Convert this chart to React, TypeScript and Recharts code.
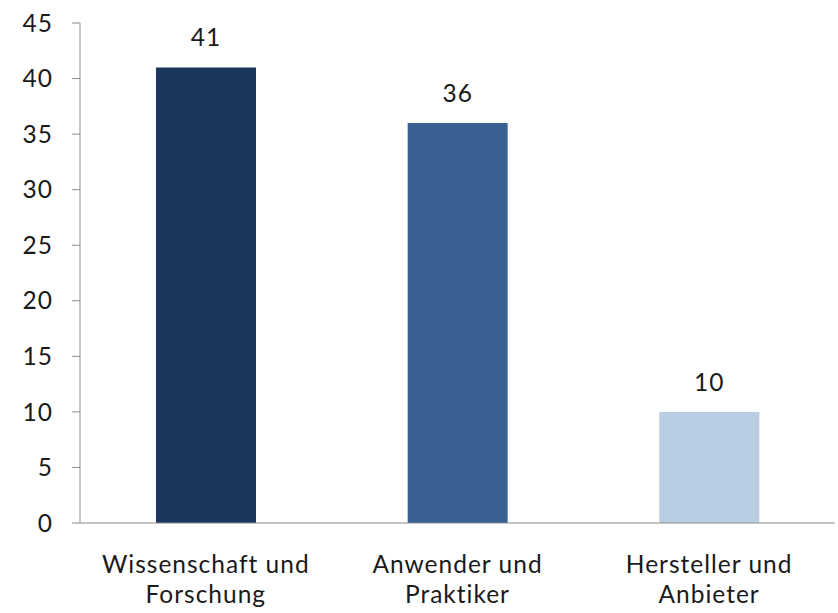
import React from "react";
import { BarChart, Bar, XAxis, YAxis, Cell, LabelList } from "recharts";

const categories = ["Wissenschaft und\nForschung", "Anwender und\nPraktiker", "Hersteller und\nAnbieter"];
const values = [41, 36, 10];
const colors = ["#1B365D", "#386192", "#B9CDE5"];
const yTicks = [0, 5, 10, 15, 20, 25, 30, 35, 40, 45];
const boundaryTicks = [0, 1, 2, 3];

const data = categories.map((c, i) => ({ name: c, value: values[i], pos: i + 0.5 }));

const FONT = "Lato, 'Open Sans', sans-serif";
const FS = 24.5;
const LS = 1;

const CatTick = (props: any) => {
  const { x, y, payload } = props;
  const lines = String(payload.value).split("\n");
  return (
    <g>
      {lines.map((l: string, i: number) => (
        <text
          key={i}
          x={x}
          y={y + 42 + i * 30}
          textAnchor="middle"
          fill="#1a1a1a"
          fontFamily={FONT}
          fontSize={FS}
          letterSpacing={LS}
        >
          {l}
        </text>
      ))}
    </g>
  );
};

export default function App() {
  return (
    <div style={{ position: "absolute", left: 0, top: 0, background: "#fff" }}>
      <BarChart
        width={838}
        height={613}
        data={data}
        margin={{ top: 23, right: 3, left: 0, bottom: 0 }}
        barCategoryGap={0}
      >
        <XAxis
          xAxisId="b"
          type="number"
          dataKey="pos"
          domain={[0, 3]}
          ticks={boundaryTicks}
          tick={false}
          tickSize={8}
          height={0}
          axisLine={false}
          tickLine={{ stroke: "#8c8c8c" }}
        />
        <XAxis
          dataKey="name"
          height={90}
          tickLine={false}
          axisLine={{ stroke: "#8c8c8c" }}
          tick={<CatTick />}
          interval={0}
        />
        <YAxis
          domain={[0, 45]}
          ticks={yTicks}
          width={80}
          tickSize={8}
          tickMargin={19}
          axisLine={{ stroke: "#8c8c8c" }}
          tickLine={{ stroke: "#8c8c8c" }}
          tick={{ fill: "#1a1a1a", fontFamily: FONT, fontSize: FS, letterSpacing: LS }}
          interval={0}
        />
        <Bar dataKey="value" barSize={100} isAnimationActive={false}>
          {data.map((d, i) => (
            <Cell key={i} fill={colors[i]} />
          ))}
          <LabelList
            dataKey="value"
            position="top"
            offset={21}
            fill="#1a1a1a"
            fontFamily={FONT}
            fontSize={FS}
            letterSpacing={LS}
          />
        </Bar>
      </BarChart>
    </div>
  );
}
